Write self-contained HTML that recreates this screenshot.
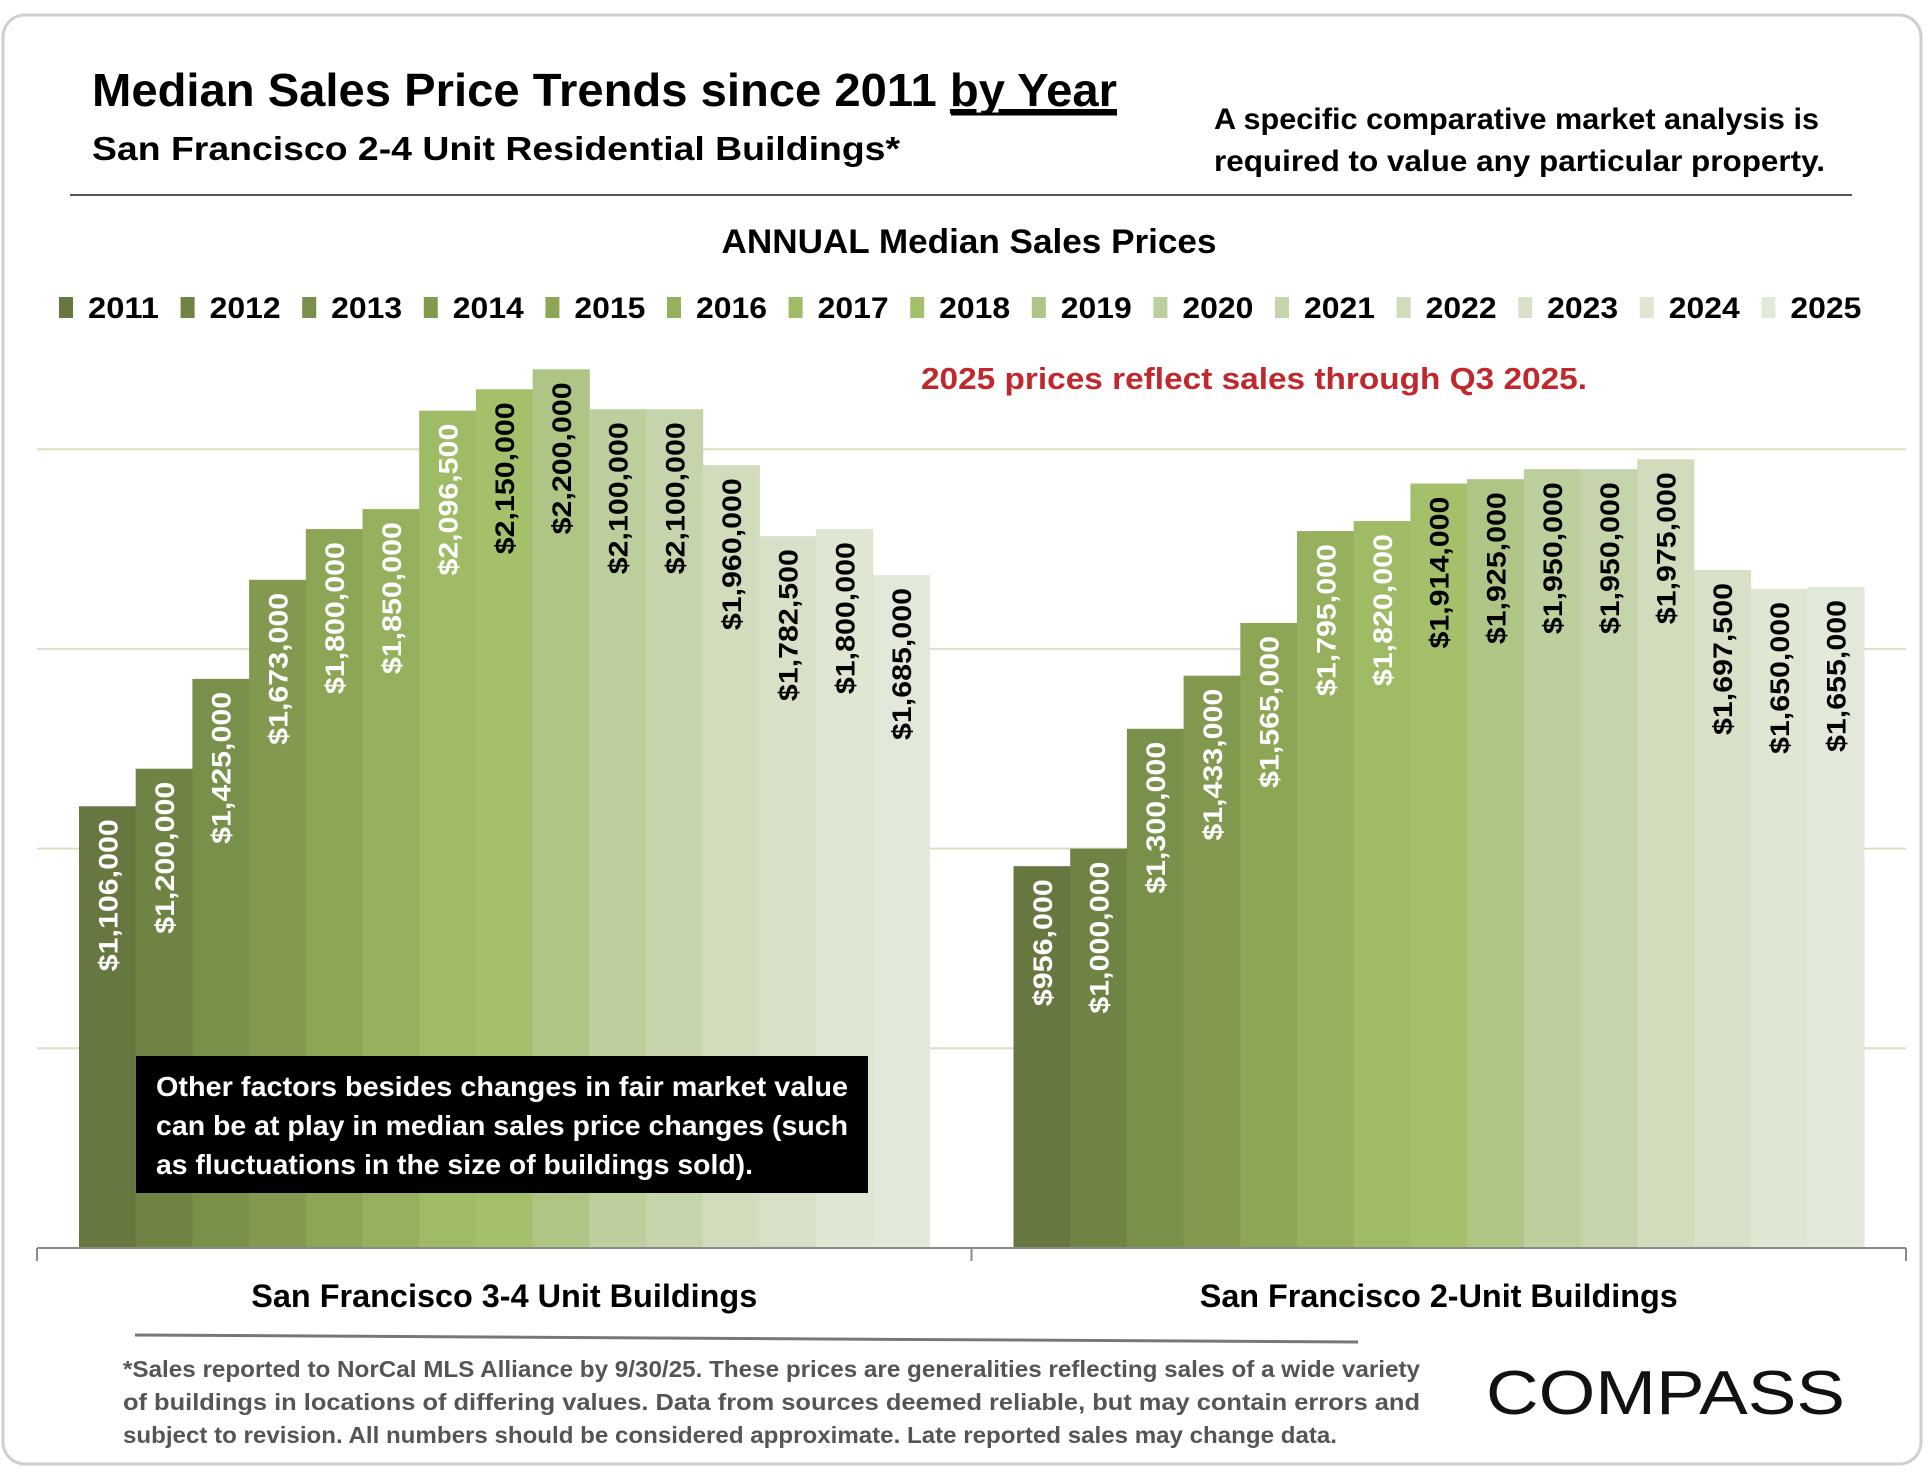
<!DOCTYPE html>
<html><head><meta charset="utf-8"><style>
html,body{margin:0;padding:0;background:#fff;}
svg{display:block;font-family:"Liberation Sans",sans-serif;}
</style></head><body>
<svg id="chart" width="1926" height="1484" viewBox="0 0 1926 1484" xmlns="http://www.w3.org/2000/svg">
<rect x="3" y="15" width="1918" height="1449" rx="22" fill="#fff" stroke="#cfcfcf" stroke-width="3"/>
<text x="92" y="106" font-size="46" font-weight="bold" textLength="1025" lengthAdjust="spacingAndGlyphs">Median Sales Price Trends since 2011 <tspan text-decoration="underline">by Year</tspan></text>
<line x1="951" y1="114" x2="1117" y2="114" stroke="#000" stroke-width="3"/>
<text x="92" y="160" font-size="33" font-weight="bold" textLength="808" lengthAdjust="spacingAndGlyphs">San Francisco 2-4 Unit Residential Buildings*</text>
<text x="1214" y="129" font-size="30" font-weight="bold" textLength="605" lengthAdjust="spacingAndGlyphs">A specific comparative market analysis is</text>
<text x="1214" y="171" font-size="30" font-weight="bold" textLength="611" lengthAdjust="spacingAndGlyphs">required to value any particular property.</text>
<line x1="70" y1="195" x2="1852" y2="195" stroke="#555" stroke-width="2"/>
<text x="969" y="253" font-size="34" font-weight="bold" text-anchor="middle" textLength="495" lengthAdjust="spacingAndGlyphs">ANNUAL Median Sales Prices</text>
<text x="921" y="389" font-size="31" font-weight="bold" fill="#c0282d" textLength="666" lengthAdjust="spacingAndGlyphs">2025 prices reflect sales through Q3 2025.</text>
<g id="grid"></g>
<g id="bars"></g>
<g id="labels"></g>
<g id="legend"></g>
<line x1="37" y1="1248" x2="1906" y2="1248" stroke="#8a8a8a" stroke-width="2"/>
<g id="xaxis"></g>
<rect x="136" y="1056" width="732" height="137" fill="#000"/>
<text x="156" y="1096" font-size="28" font-weight="bold" fill="#fff" textLength="692" lengthAdjust="spacingAndGlyphs">Other factors besides changes in fair market value</text>
<text x="156" y="1135" font-size="28" font-weight="bold" fill="#fff" textLength="692" lengthAdjust="spacingAndGlyphs">can be at play in median sales price changes (such</text>
<text x="156" y="1174" font-size="28" font-weight="bold" fill="#fff" textLength="597" lengthAdjust="spacingAndGlyphs">as fluctuations in the size of buildings sold).</text>
<line x1="135" y1="1335" x2="1358" y2="1342" stroke="#777" stroke-width="3"/>
<g fill="#555" font-size="23" font-weight="bold">
<text x="123" y="1377" textLength="1297" lengthAdjust="spacingAndGlyphs">*Sales reported to NorCal MLS Alliance by 9/30/25. These prices are generalities reflecting sales of a wide variety</text>
<text x="123" y="1410" textLength="1297" lengthAdjust="spacingAndGlyphs">of buildings in locations of differing values. Data from sources deemed reliable, but may contain errors and</text>
<text x="123" y="1443" textLength="1214" lengthAdjust="spacingAndGlyphs">subject to revision. All numbers should be considered approximate. Late reported sales may change data.</text>
</g>
<text x="1486" y="1414" font-size="62" fill="#111" textLength="359" lengthAdjust="spacingAndGlyphs">COMPASS</text>
</svg>
<script>
const categories = ["San Francisco 3-4 Unit Buildings", "San Francisco 2-Unit Buildings"];
const years = ["2011","2012","2013","2014","2015","2016","2017","2018","2019","2020","2021","2022","2023","2024","2025"];
const values34 = [1106000,1200000,1425000,1673000,1800000,1850000,2096500,2150000,2200000,2100000,2100000,1960000,1782500,1800000,1685000];
const values2 = [956000,1000000,1300000,1433000,1565000,1795000,1820000,1914000,1925000,1950000,1950000,1975000,1697500,1650000,1655000];
const gridTicks = [500000,1000000,1500000,2000000];

const colors = ["#66773f","#6f8444","#79904a","#82994f","#8da655","#97b05e","#9fbb66","#a4c06a","#aec585","#bccf9c","#c6d4ab","#d1dcbd","#d8e1c8","#dfe6d2","#e3e9da"];
const NS = "http://www.w3.org/2000/svg";
const X0 = 37, X1 = 1906, BASE = 1248, PX_PER = 199.7/500000;
const catW = (X1 - X0) / categories.length;
const barW = 56.7;
function yPx(v){ return BASE - v * PX_PER; }
function catCenter(i){ return X0 + catW * (i + 0.5); }
function barX(ci, yi){ return catCenter(ci) - barW * years.length / 2 + yi * barW; }
function mk(tag, attrs, parent){ const e = document.createElementNS(NS, tag); for (const k in attrs) e.setAttribute(k, attrs[k]); parent.appendChild(e); return e; }
function fmt(v){ return "$" + v.toLocaleString("en-US"); }

const grid = document.getElementById("grid");
gridTicks.forEach(t => {
  const l = mk("line", {x1: X0, x2: X1, y1: yPx(t), y2: yPx(t), stroke: "#d6e2c0", "stroke-width": 2}, grid);
  
  
});

const bars = document.getElementById("bars"), labels = document.getElementById("labels");
[values34, values2].forEach((series, ci) => {
  series.forEach((v, yi) => {
    const x = barX(ci, yi), y = yPx(v);
    const r = mk("rect", {x: x, y: y, width: barW + 0.5, height: BASE - y, fill: colors[yi]}, bars);
    
    
    const cx = x + barW / 2 + 1, ty = y + 13;
    const t = mk("text", {x: cx, y: ty, transform: "rotate(-90 " + cx + " " + ty + ")", "text-anchor": "end", "dominant-baseline": "central", "font-size": 27, "font-weight": "bold", fill: yi < 7 ? "#fff" : "#000", textLength: 152, lengthAdjust: "spacingAndGlyphs"}, labels);
    if (v < 1000000) t.setAttribute("textLength", 127);
    t.textContent = fmt(v);
    
    
  });
});

const xaxis = document.getElementById("xaxis");
[X0, X0 + catW, X1].forEach(x => {
  const l = mk("line", {x1: x, x2: x, y1: 1248, y2: 1261, stroke: "#8a8a8a", "stroke-width": 2}, xaxis);
  
  
});
categories.forEach((c, i) => {
  const t = mk("text", {x: catCenter(i), y: 1307, "text-anchor": "middle", "font-size": 32, "font-weight": "bold", textLength: i === 0 ? 506 : 478, lengthAdjust: "spacingAndGlyphs"}, xaxis);
  t.textContent = c;
  
  
});

const legend = document.getElementById("legend");
years.forEach((yr, i) => {
  const x = 59 + i * 121.6;
  const g = mk("g", {}, legend);
  
  
  mk("rect", {x: x, y: 297, width: 14, height: 21, fill: colors[i]}, g);
  const t = mk("text", {x: x + 29, y: 318, "font-size": 30, "font-weight": "bold", textLength: 71, lengthAdjust: "spacingAndGlyphs"}, g);
  t.textContent = yr;
});
</script>
</body></html>
